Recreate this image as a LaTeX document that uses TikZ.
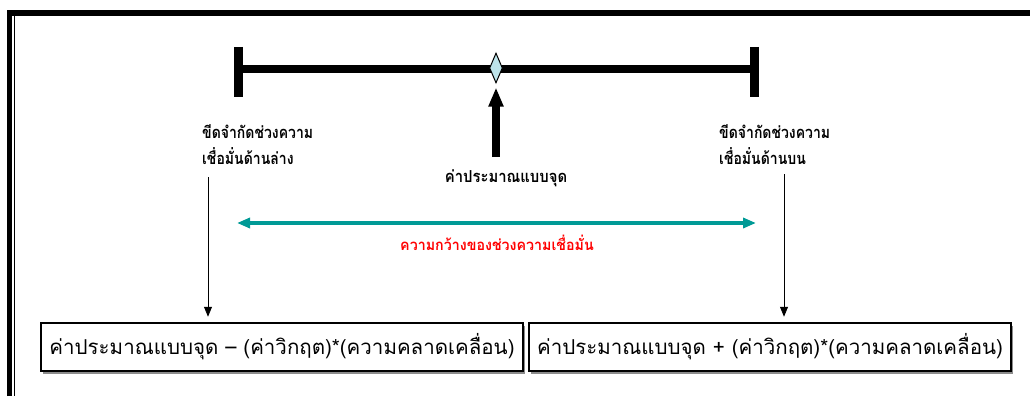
\documentclass[tikz,border=0pt]{standalone}
\usepackage{fontspec}
\newfontfamily\thai[Script=Thai]{Loma}
\newfontfamily\thaicond[Script=Thai,FakeStretch=0.85]{Loma}
\newfontfamily\thaimid[Script=Thai,FakeStretch=0.9]{Loma}
\newfontfamily\thaired[Script=Thai,FakeStretch=0.95]{Loma}
\usetikzlibrary{arrows.meta,shapes.geometric,shadows}
\definecolor{tealc}{HTML}{009A96}
\definecolor{diamc}{HTML}{BDE4EA}
\begin{document}
\begin{tikzpicture}[x=1pt,y=-1pt,
  barline/.style={line width=7.5pt},
  tickline/.style={line width=9pt},
  lbl/.style={font=\thaicond\bfseries\fontsize{16.5}{26}\selectfont, align=left, inner sep=0pt, anchor=north west},
  formbox/.style={draw, line width=2.5pt, fill=white, minimum width=482pt, minimum height=48pt, inner sep=0pt,
     font=\thai\fontsize{20.5}{22}\selectfont,
     drop shadow={shadow xshift=2pt, shadow yshift=-2.5pt, fill=black!45, opacity=1}},
  thinarrow/.style={line width=0.8pt, -{Triangle[width=8pt,length=10pt]}},
  bigarrow/.style={line width=8pt, -{Triangle[width=14pt,length=19pt]}},
  widtharrow/.style={tealc, line width=3.5pt, {Triangle[width=10pt,length=13pt]}-{Triangle[width=10pt,length=13pt]}}
]
\useasboundingbox (0,0) rectangle (1030,396);
% frame
\draw[line width=5.5pt] (9.7,396) -- (9.7,13) -- (1030,13);
\draw[line width=1.2pt] (14.6,16) -- (14.6,396);

% interval bar
\coordinate (L) at (238,69);
\coordinate (R) at (754,69);
\coordinate (Lt) at (238,47);
\coordinate (Lb) at (238,97);
\coordinate (Rt) at (754,47);
\coordinate (Rb) at (754,97);
\draw[barline] (L) -- (R);
\draw[tickline] (Lt) -- (Lb);
\draw[tickline] (Rt) -- (Rb);
\node[diamond, draw, line width=1pt, fill=diamc, minimum width=13pt, minimum height=30pt, inner sep=0pt] (est) at (496,68) {};

% point estimate arrow
\node[font=\thaimid\bfseries\fontsize{16.5}{18}\selectfont, inner sep=0pt] (ptlbl) at (506,178) {ค่าประมาณแบบจุด};
\coordinate (ptbase) at (496,157);
\draw[bigarrow, shorten >=4pt] (ptbase) -- (est.south);

% limit labels
\node[lbl] (lowlbl) at (202,124) {ขีดจำกัดช่วงความ\\เชื่อมั่นด้านล่าง};
\node[lbl] (uplbl) at (719,124) {ขีดจำกัดช่วงความ\\เชื่อมั่นด้านบน};

% formula boxes
\node[formbox] (lowbox) at (282,347) {ค่าประมาณแบบจุด – (ค่าวิกฤต)*(ความคลาดเคลื่อน)};
\node[formbox] (upbox) at (770,347) {ค่าประมาณแบบจุด + (ค่าวิกฤต)*(ความคลาดเคลื่อน)};

\coordinate (lowstart) at (208,177);
\coordinate (upstart) at (784,174);
\draw[thinarrow, shorten >=5pt] (lowstart) -- (lowstart |- lowbox.north);
\draw[thinarrow, shorten >=5pt] (upstart) -- (upstart |- upbox.north);

% width arrow
\coordinate (wl) at (237,223);
\coordinate (wr) at (756,223);
\draw[widtharrow] (wl) -- (wr);
\node[font=\thaired\bfseries\fontsize{15}{17}\selectfont, text=red, inner sep=0pt] (wlbl) at (497,243) {ความกว้างของช่วงความเชื่อมั่น};
\end{tikzpicture}
\end{document}
